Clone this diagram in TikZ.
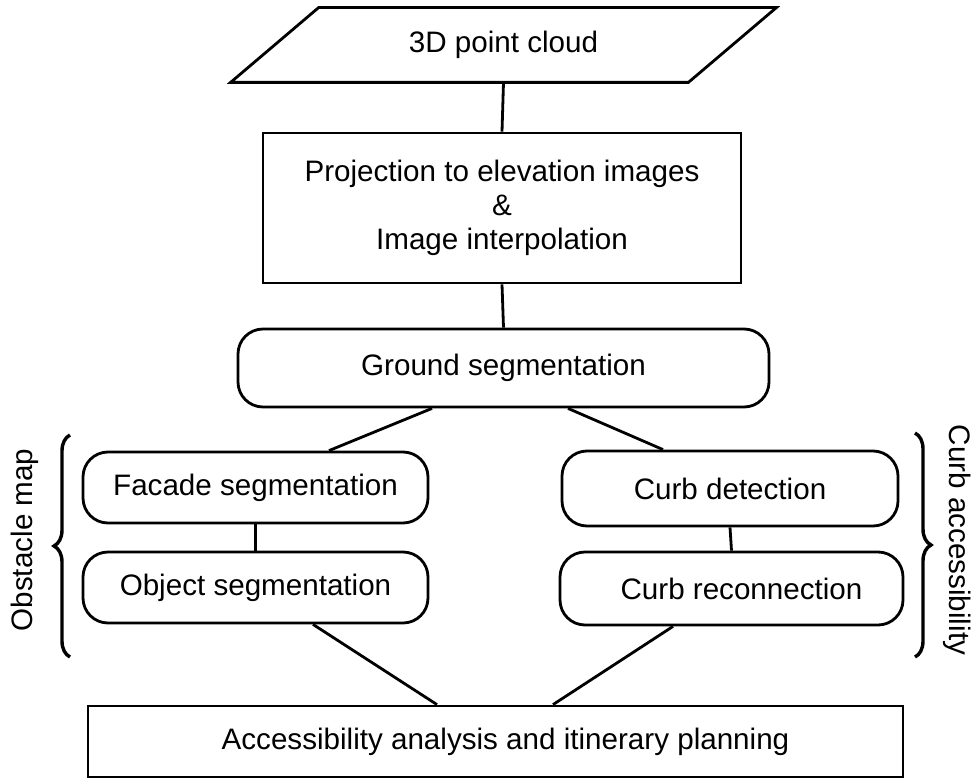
\documentclass[tikz,border=0pt]{standalone}
\usepackage{fontspec}
\setmainfont{Liberation Sans}
\usetikzlibrary{decorations.pathreplacing}

\begin{document}
\begin{tikzpicture}[x=0.5pt, y=-0.5pt, line width=1.4pt,
    box/.style={draw, inner sep=0pt, align=center,
        font=\fontsize{14.8pt}{17pt}\selectfont},
    stage/.style={box, rounded corners=12.5pt},
    groupbrace/.style={decorate, decoration={brace, amplitude=8pt}, line width=1.7pt},
    grouplabel/.style={font=\fontsize{14.8pt}{17pt}\selectfont}]
    \useasboundingbox (0,0) rectangle (979,781);

    % Entrada
    \node[box, draw=none, minimum width=227.5pt, minimum height=36pt] (cloud) at (503.5,45) {3D point cloud};
    \draw ([xshift=-22pt]cloud.south west) -- ([xshift=-22pt]cloud.south east)
        -- ([xshift=22pt]cloud.north east) -- ([xshift=22pt]cloud.north west) -- cycle;

    % Proyeccion y suelo
    \node[box, minimum width=239pt, minimum height=75pt] (proj) at (502,208)
        {Projection to elevation images\\\&\\Image interpolation};
    \node[stage, minimum width=265.5pt, minimum height=39pt] (ground) at (503.5,368) {Ground segmentation};

    % Rama izquierda
    \node[stage, minimum width=172.5pt, minimum height=35.5pt] (facade) at (255.5,487.5) {Facade segmentation};
    \node[stage, minimum width=172.5pt, minimum height=35.5pt] (object) at (255.5,587.5) {Object segmentation};

    % Rama derecha
    \node[stage, minimum width=168pt, minimum height=37.5pt] (curbdet) at (730,488.5) {Curb detection};
    \node[stage, minimum width=171.5pt, minimum height=36.5pt] (curbrec) at (731.5,588.5) {\hspace{10pt}Curb reconnection};

    % Salida
    \node[box, minimum width=407.5pt, minimum height=35.5pt] (plan) at (495.5,741.5)
        {\hspace{10pt}Accessibility analysis and itinerary planning};

    % Conexiones
    \draw (cloud.south) -- (proj.north);
    \draw (proj.south) -- (ground.north);
    \draw ([xshift=-35.75pt]ground.south) -- ([xshift=36.75pt]facade.north);
    \draw ([xshift=32.25pt]ground.south) -- ([xshift=-33.5pt]curbdet.north);
    \draw (facade.south) -- (object.north);
    \draw (curbdet.south) -- (curbrec.north);
    \draw ([xshift=28.75pt]object.south) -- ([xshift=-29.25pt]plan.north);
    \draw ([xshift=-29.25pt]curbrec.south) -- ([xshift=28.75pt]plan.north);

    % Llaves
    \coordinate (obsTop) at (70,435);
    \coordinate (obsBot) at (70,657);
    \coordinate (curbTop) at (915,433);
    \coordinate (curbBot) at (915,657);
    \draw[groupbrace] (obsBot) -- (obsTop);
    \draw[groupbrace] (curbTop) -- (curbBot);
    \node[grouplabel, rotate=90] (obslabel) at (25,540) {Obstacle map};
    \node[grouplabel, rotate=-90] (curblabel) at (957,540) {Curb accessibility};
\end{tikzpicture}
\end{document}
